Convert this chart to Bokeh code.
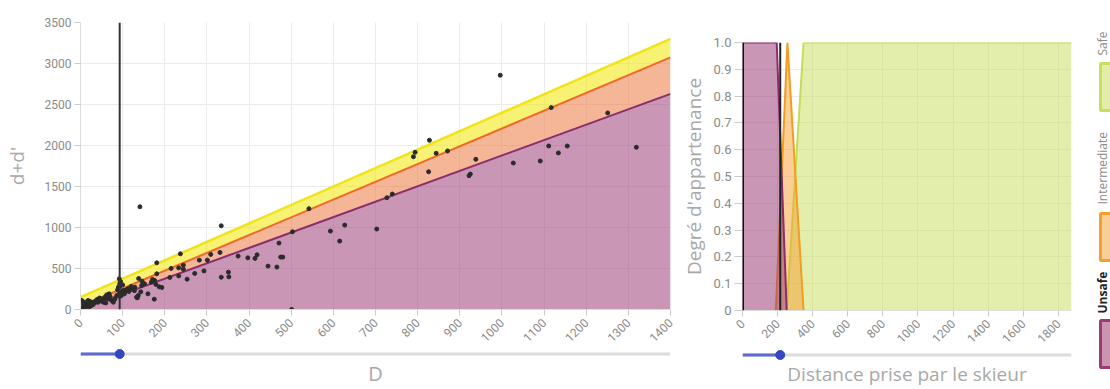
import math
from bokeh.plotting import figure
from bokeh.layouts import row, column
from bokeh.models import Range1d, FixedTicker, Span, CustomJSTickFormatter
from bokeh.embed import file_html
from bokeh.resources import INLINE
from bokeh.core.properties import value

# ---------------- data: left chart ----------------
D_pts = [3, 7, 11, 15, 19, 23, 27, 31, 35, 39, 42, 46, 50, 54, 58, 62, 66, 68, 74, 78,
         82, 86, 90, 92, 93, 96, 97, 101, 104, 107, 112, 115, 119, 125, 129, 133, 137, 145, 152, 160,
         168, 176, 5, 10, 14, 20, 25, 8, 30, 18, 45, 55, 70, 60, 88, 93, 93, 93, 95, 100,
         110, 120, 128, 135, 138, 143, 146,
         141, 181, 237, 309, 331, 282, 301, 244, 244, 233, 215, 181, 212, 233, 253, 271, 293, 334,
         351, 352, 374, 397, 414, 419, 445, 466, 471, 475, 480, 503, 171, 179, 187, 193, 175, 334, 501,
         542, 593, 615, 627, 703, 727, 740, 790, 794, 828, 826, 844, 871, 922, 925, 938, 996, 1027,
         1091, 1111, 1117, 1134, 1155, 1251, 1319]
S_pts = [110, 68, 89, 56, 81, 98, 68, 89, 98, 122, 89, 110, 129, 89, 150, 178, 129, 191, 110, 89,
         129, 171, 272, 374, 313, 211, 171, 232, 191, 232, 252, 220, 260, 252, 272, 150, 171, 293, 313, 191,
         333, 354, 20, 35, 40, 30, 45, 15, 60, 110, 140, 120, 160, 80, 240, 200, 160, 280, 340, 300,
         240, 280, 230, 142, 378, 215, 346,
         1253, 569, 679, 672, 696, 602, 602, 541, 492, 508, 501, 435, 391, 410, 370, 440, 471, 394,
         455, 398, 651, 630, 623, 667, 529, 517, 810, 639, 639, 948, 366, 305, 276, 269, 126, 1021, 0,
         1229, 956, 834, 1029, 981, 1363, 1408, 1863, 1917, 2064, 1680, 1905, 1933, 1632, 1652, 1832, 2857, 1786,
         1811, 1994, 2462, 1909, 1994, 2397, 1978]
band_x = [0, 1400]
yellow_top = [150, 3300]
orange_top = [40, 3075]
purple_top = [0, 2630]
left_cursor = 93
left_slider_range = [0, 1400]
left_x_ticks = list(range(0, 1401, 100))
left_y_ticks = list(range(0, 3501, 500))

# ---------------- data: right chart ----------------
unsafe_x = [0, 195, 252]
unsafe_y = [1, 1, 0]
inter_x = [190, 256, 348]
inter_y = [0, 1, 0]
safe_x = [252, 348, 1875]
safe_y = [0, 1, 1]
right_cursor = 215
right_slider_range = [0, 1875]
right_x_ticks = list(range(0, 1801, 200))
right_y_ticks = [0, 0.1, 0.2, 0.3, 0.4, 0.5, 0.6, 0.7, 0.8, 0.9, 1.0]

legend_labels = ["Safe", "Intermediate", "Unsafe"]
legend_fill = ["#e3eda9", "#f8cf97", "#c995b1"]
legend_line = ["#c6df5e", "#f5a02c", "#9c3b72"]

TICK_COLOR = "#8a8a8a"
LABEL_COLOR = "#a8a8a8"
GRID = "#ebebeb"


def style_axes(p):
    for ax in (p.xaxis[0], p.yaxis[0]):
        ax.major_label_text_font = "Roboto"
        ax.major_label_text_font_size = "12px"
        ax.major_label_text_color = TICK_COLOR
        ax.axis_label_text_font = "Open Sans"
        ax.axis_label_text_font_size = "19px"
        ax.axis_label_text_font_style = "normal"
        ax.axis_label_text_color = LABEL_COLOR
        ax.axis_line_color = "#dddddd"
        ax.major_tick_line_color = "#cccccc"
        ax.minor_tick_line_color = None
        ax.major_tick_in = 0
        ax.major_tick_out = 6
    p.xaxis.major_label_orientation = math.pi / 4
    p.xgrid.grid_line_color = GRID
    p.ygrid.grid_line_color = GRID
    p.outline_line_color = None


def style_slider(s, label, size, standoff):
    s.outline_line_color = None
    s.grid.grid_line_color = None
    s.xaxis.ticker = FixedTicker(ticks=[])
    s.xaxis.axis_line_color = None
    s.xaxis.major_tick_line_color = None
    s.xaxis.axis_label = label
    s.xaxis.axis_label_text_font = "Open Sans"
    s.xaxis.axis_label_text_font_size = size
    s.xaxis.axis_label_text_font_style = "normal"
    s.xaxis.axis_label_text_color = LABEL_COLOR
    s.xaxis.axis_label_standoff = standoff


# ---------------- left main ----------------
p1 = figure(width=678, height=348, x_range=Range1d(0, 1400), y_range=Range1d(0, 3500),
            output_backend="svg", toolbar_location=None,
            min_border_left=77, min_border_right=8, min_border_top=22, min_border_bottom=39)
p1.xaxis.ticker = FixedTicker(ticks=left_x_ticks)
p1.yaxis.ticker = FixedTicker(ticks=left_y_ticks)
p1.xgrid.ticker = FixedTicker(ticks=left_x_ticks)
p1.ygrid.ticker = FixedTicker(ticks=left_y_ticks)
style_axes(p1)
p1.yaxis.axis_label = "d+d'"
p1.yaxis.axis_label_standoff = 12
p1.yaxis.major_label_standoff = 3

p1.varea(x=band_x, y1=orange_top, y2=yellow_top, fill_color="#f0e800", fill_alpha=0.55)
p1.varea(x=band_x, y1=purple_top, y2=orange_top, fill_color="#eb7a40", fill_alpha=0.55)
p1.varea(x=band_x, y1=0, y2=purple_top, fill_color="#9d3f78", fill_alpha=0.55)
p1.line(band_x, yellow_top, line_color="#f0e418", line_width=2.5)
p1.line(band_x, orange_top, line_color="#ee6a26", line_width=2)
p1.line(band_x, purple_top, line_color="#8c2d6b", line_width=2)
p1.add_layout(Span(location=left_cursor, dimension="height", line_color="#333333", line_width=2))
p1.scatter(D_pts, S_pts, size=4, fill_color="#2b2b2b", line_color="#2b2b2b")

# ---------------- left slider ----------------
s1 = figure(width=678, height=41, x_range=Range1d(0, 1400), y_range=Range1d(-1, 1),
            output_backend="svg", toolbar_location=None, y_axis_type=None,
            min_border_left=77, min_border_right=8, min_border_top=0, min_border_bottom=0)
style_slider(s1, "D", "20px", 0)
s1.segment(x0=left_slider_range[0], y0=0, x1=left_slider_range[1], y1=0, line_color="#dcdcdc", line_width=3)
s1.segment(x0=left_slider_range[0], y0=0, x1=left_cursor, y1=0, line_color="#5c6bd0", line_width=3)
s1.scatter([left_cursor], [0], size=9, fill_color="#3447c0", line_color="#3447c0")

# ---------------- right main ----------------
p2 = figure(width=412, height=349, x_range=Range1d(0, 1875), y_range=Range1d(0, 1),
            output_backend="svg", toolbar_location=None,
            min_border_left=60, min_border_right=19, min_border_top=42, min_border_bottom=39)
p2.xaxis.ticker = FixedTicker(ticks=right_x_ticks)
p2.yaxis.ticker = FixedTicker(ticks=right_y_ticks)
p2.xgrid.ticker = FixedTicker(ticks=right_x_ticks)
p2.ygrid.ticker = FixedTicker(ticks=right_y_ticks)
style_axes(p2)
p2.yaxis.major_label_text_font_size = "13px"
p2.yaxis.formatter = CustomJSTickFormatter(code="return tick == 0 ? '0' : tick.toFixed(1);")
p2.yaxis.major_tick_out = 8
p2.yaxis.axis_label = "Degré d'appartenance"
p2.yaxis.axis_label_standoff = 3
p2.yaxis.major_label_standoff = 3

p2.varea(x=safe_x, y1=0, y2=safe_y, fill_color="#c8dc5a", fill_alpha=0.5)
p2.line(safe_x, safe_y, line_color="#c3de55", line_width=2)
p2.varea(x=inter_x, y1=0, y2=inter_y, fill_color="#f5a030", fill_alpha=0.5)
p2.line(inter_x, inter_y, line_color="#f39c1f", line_width=2)
p2.varea(x=unsafe_x, y1=0, y2=unsafe_y, fill_color="#9d3f78", fill_alpha=0.55)
p2.line(unsafe_x, unsafe_y, line_color="#8c2d6b", line_width=2)
p2.add_layout(Span(location=right_slider_range[0], dimension="height", line_color="#111111", line_width=3))
p2.add_layout(Span(location=right_cursor, dimension="height", line_color="#222222", line_width=2))

# ---------------- right slider ----------------
s2 = figure(width=412, height=40, x_range=Range1d(0, 1875), y_range=Range1d(-1, 1),
            output_backend="svg", toolbar_location=None, y_axis_type=None,
            min_border_left=60, min_border_right=19, min_border_top=0, min_border_bottom=0)
style_slider(s2, "Distance prise par le skieur", "19px", 0)
s2.segment(x0=right_slider_range[0], y0=0, x1=right_slider_range[1], y1=0, line_color="#dcdcdc", line_width=3)
s2.segment(x0=right_slider_range[0], y0=0, x1=right_cursor, y1=0, line_color="#5c6bd0", line_width=3)
s2.scatter([right_cursor], [0], size=9, fill_color="#3447c0", line_color="#3447c0")

# ---------------- legend ----------------
lg = figure(width=20, height=389, x_range=Range1d(0, 20), y_range=Range1d(389, 0),
            output_backend="svg", toolbar_location=None, x_axis_type=None, y_axis_type=None,
            min_border_left=0, min_border_right=0, min_border_top=0, min_border_bottom=0)
lg.outline_line_color = None
lg.grid.grid_line_color = None
box_tops = [63, 213, 320]
text_ends = [55, 204, 313]
lg.quad(left=10, right=40, top=box_tops, bottom=[b + 47 for b in box_tops],
        fill_color=legend_fill, line_color=legend_line, line_width=3)
lg.text(x=[12, 12], y=text_ends[:2], text=legend_labels[:2], angle=math.pi / 2,
        text_align="left", text_baseline="middle", text_font=value("Open Sans"),
        text_font_size="12px", text_color="#8a8a8a")
lg.text(x=[12], y=text_ends[2:], text=legend_labels[2:], angle=math.pi / 2,
        text_align="left", text_baseline="middle", text_font=value("Open Sans"),
        text_font_size="12px", text_color="#222222", text_font_style="bold")

layout = row(column(p1, s1), column(p2, s2), lg, spacing=0)
open("out.html", "w").write(file_html(layout, INLINE))
